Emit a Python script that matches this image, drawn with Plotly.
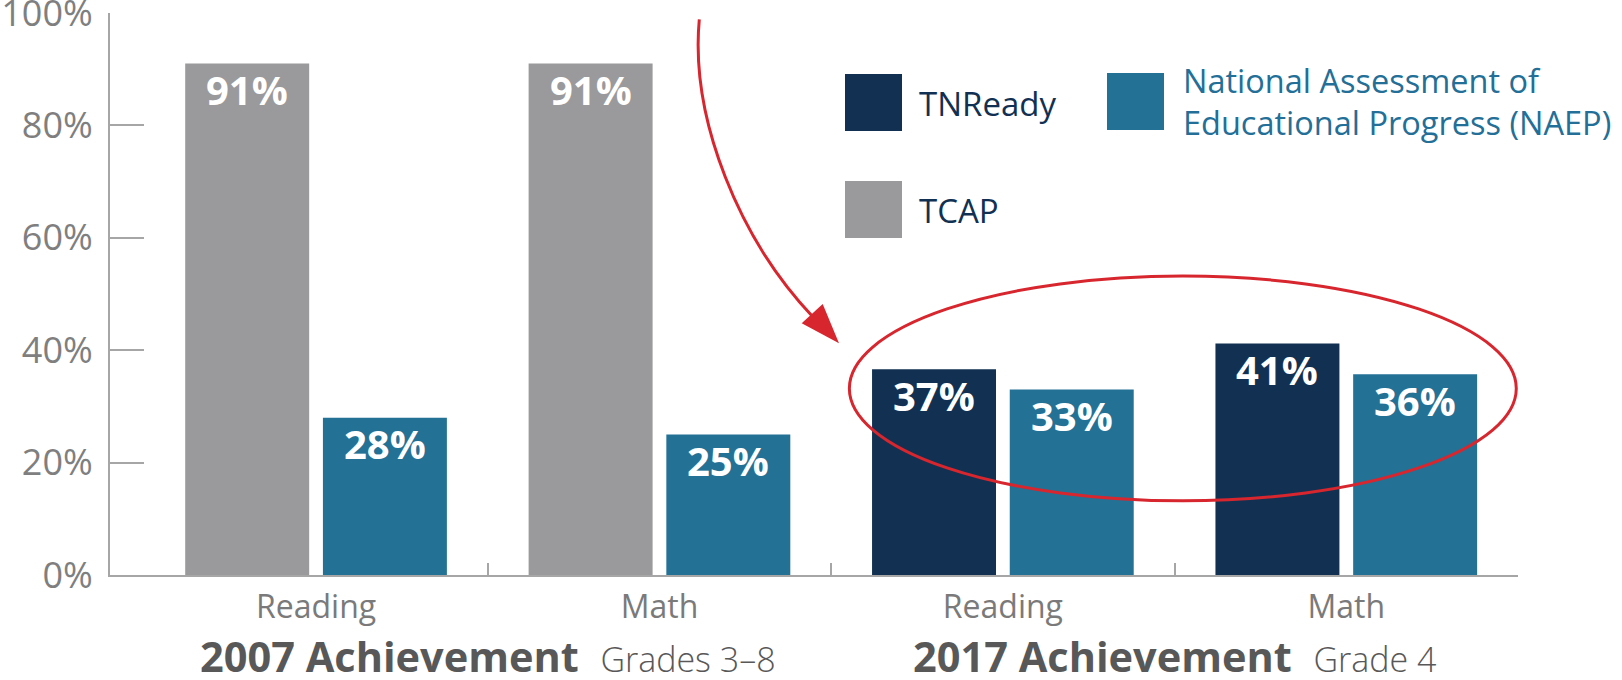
import plotly.graph_objects as go

# ---------------- data ----------------
categories = ["Reading", "Math", "Reading", "Math"]
cat_pos = [0, 1, 2, 3]
tcap_pos = [0, 1]
tcap_vals = [91, 91]
tcap_text = ["91%", "91%"]
tnready_pos = [2, 3]
tnready_vals = [36.6, 41.2]
tnready_text = ["37%", "41%"]
naep_pos = [0, 1, 2, 3]
naep_vals = [28, 25, 33, 35.7]
naep_text = ["28%", "25%", "33%", "36%"]
group_titles = ["2007 Achievement", "2017 Achievement"]
group_subtitles = ["Grades 3–8", "Grade 4"]
group_centers = [0.5, 2.5]
y_ticks = [0, 20, 40, 60, 80, 100]
y_tick_text = ["0%", "20%", "40%", "60%", "80%", "100%"]
boundaries = [0.5, 1.5, 2.5, 3.5]

# ---------------- style ----------------
W, H = 1622, 680
ML, MR, MT, MB = 110, 104, 13, 105
PW, PH = W - ML - MR, H - MT - MB
GRAY = "#9a999b"
TEAL = "#247196"
NAVY = "#123152"
RED = "#d7262e"
AXIS = "#a6a6a6"
FONT = "Open Sans"
BAR_W = 0.361
LEFT_OFF = -0.381
RIGHT_OFF = 0.020


def px(x):
    return (x - ML) / PW


def py(y):
    return (H - MB - y) / PH


fig = go.Figure()
fig.add_trace(go.Bar(x=tcap_pos, y=tcap_vals, name="TCAP", marker_color=GRAY,
                     width=BAR_W, offset=LEFT_OFF, marker_line_width=0, hoverinfo="skip"))
fig.add_trace(go.Bar(x=tnready_pos, y=tnready_vals, name="TNReady", marker_color=NAVY,
                     width=BAR_W, offset=LEFT_OFF, marker_line_width=0, hoverinfo="skip"))
fig.add_trace(go.Bar(x=naep_pos, y=naep_vals, name="NAEP", marker_color=TEAL,
                     width=BAR_W, offset=RIGHT_OFF, marker_line_width=0, hoverinfo="skip"))
# invisible trace on the overlay axis that carries the boundary ticks
fig.add_trace(go.Scatter(x=[0], y=[0], xaxis="x2", mode="markers",
                         marker=dict(opacity=0), hoverinfo="skip", showlegend=False))

annotations = []
for pos, vals, texts, off in [(tcap_pos, tcap_vals, tcap_text, LEFT_OFF),
                              (tnready_pos, tnready_vals, tnready_text, LEFT_OFF),
                              (naep_pos, naep_vals, naep_text, RIGHT_OFF)]:
    for p, v, t in zip(pos, vals, texts):
        annotations.append(dict(x=p + off + BAR_W / 2, y=v, xref="x", yref="y", text=t,
                                showarrow=False, yanchor="middle", xanchor="center", yshift=-26,
                                font=dict(family=FONT, size=40, color="white", weight="bold")))

for c, t, s in zip(group_centers, group_titles, group_subtitles):
    annotations.append(dict(
        x=c, y=py(656), xref="x", yref="paper", showarrow=False,
        xanchor="center", yanchor="middle",
        text=f"<b>{t}</b>\u00a0\u00a0<span style='font-size:34px'>{s}</span>",
        font=dict(family=FONT, size=41.5, color="#585858", weight=300)))

# legend (manual)
legend_items = [("TNReady", NAVY, 845, 74, NAVY), ("TCAP", GRAY, 845, 181, NAVY)]
shapes = []
for name, col, x0, y0, tcol in legend_items:
    shapes.append(dict(type="rect", xref="paper", yref="paper", x0=px(x0), x1=px(x0 + 57),
                       y0=py(y0), y1=py(y0 + 57), fillcolor=col, line=dict(width=0)))
    annotations.append(dict(x=px(x0 + 72), y=py(y0 + 29), xref="paper", yref="paper",
                            text=name, showarrow=False, xanchor="left", yanchor="middle",
                            font=dict(family=FONT, size=33, color=tcol)))
shapes.append(dict(type="rect", xref="paper", yref="paper", x0=px(1107), x1=px(1164),
                   y0=py(73), y1=py(130), fillcolor=TEAL, line=dict(width=0)))
annotations.append(dict(x=px(1181), y=py(101.5), xref="paper", yref="paper",
                        text="National Assessment of<br>Educational Progress (NAEP)",
                        showarrow=False, xanchor="left", yanchor="middle", align="left",
                        font=dict(family=FONT, size=32.5, color="#236f97")))

# highlight ellipse and arrow
shapes.append(dict(type="circle", xref="x", yref="y", x0=1.553, x1=3.495, y0=13.2, y1=53.2,
                   line=dict(color=RED, width=3)))
shapes.append(dict(type="path", xref="paper", yref="paper",
                   path=(f"M {px(699.3)},{py(19.3)} C {px(690)},{py(120)} {px(740)},{py(240)} "
                         f"{px(813)},{py(317)}"),
                   line=dict(color=RED, width=3)))
shapes.append(dict(type="path", xref="paper", yref="paper",
                   path=f"M {px(839)},{py(343.3)} L {px(801.7)},{py(323.3)} L {px(822.7)},{py(304)} Z",
                   fillcolor=RED, line=dict(width=0)))

fig.update_layout(
    width=W, height=H,
    margin=dict(l=ML, r=MR, t=MT, b=MB, autoexpand=False),
    paper_bgcolor="white", plot_bgcolor="white",
    barmode="overlay",
    showlegend=False,
    font=dict(family=FONT),
    xaxis=dict(range=[-0.6, 3.5], tickvals=cat_pos, ticktext=categories,
               ticks="", showline=True, linecolor=AXIS, linewidth=2, showgrid=False,
               zeroline=False, ticklabelstandoff=3, automargin=False,
               tickfont=dict(family=FONT, size=32, color="#7a7a7a")),
    xaxis2=dict(range=[-0.6, 3.5], overlaying="x", anchor="y", side="bottom",
                tickvals=boundaries, ticks="inside", ticklen=12, tickwidth=2, tickcolor=AXIS,
                showticklabels=False, showline=False, showgrid=False, zeroline=False,
                automargin=False),
    yaxis=dict(range=[0, 100], tickvals=y_ticks, ticktext=y_tick_text, ticks="inside",
               ticklen=34, tickwidth=2, tickcolor=AXIS, showline=True, linecolor=AXIS,
               linewidth=2, showgrid=False, zeroline=False, ticklabelstandoff=8,
               ticklabeloverflow="allow", automargin=False,
               tickfont=dict(family=FONT, size=36, color="#7f7f7f")),
    annotations=annotations,
    shapes=shapes,
)

fig.write_html("out.html", config={"displayModeBar": False},
               post_script="document.body.style.margin='0';")
